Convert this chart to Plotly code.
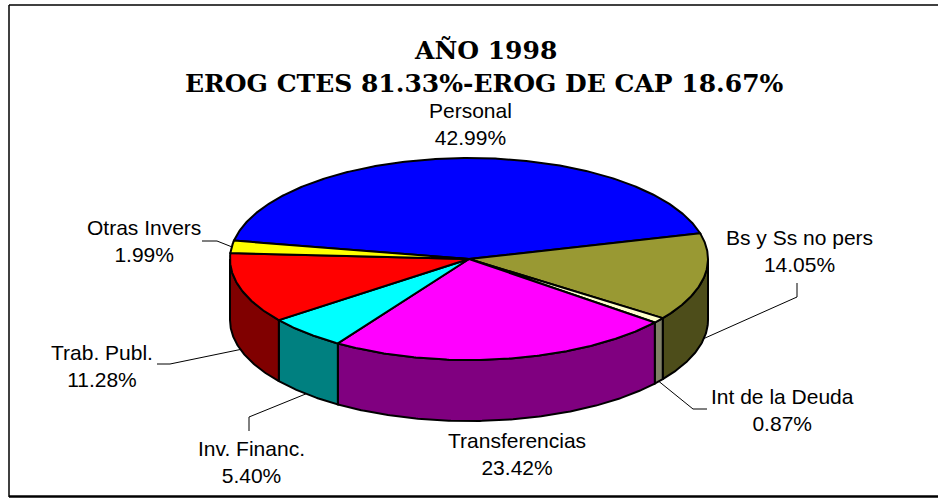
import numpy as np
import plotly.graph_objects as go

# ---------------- data ----------------
categories = ["Personal", "Bs y Ss no pers", "Int de la Deuda", "Transferencias",
              "Inv. Financ.", "Trab. Publ.", "Otras Invers"]
values = [42.99, 14.05, 0.87, 23.42, 5.40, 11.28, 1.99]
pct_labels = ["42.99%", "14.05%", "0.87%", "23.42%", "5.40%", "11.28%", "1.99%"]
title_lines = ["AÑO 1998", "EROG CTES 81.33%-EROG DE CAP 18.67%"]

# ---------------- style ----------------
top_colors = ["#0000FF", "#999933", "#FFFFCC", "#FF00FF", "#00FFFF", "#FF0000", "#FFFF00"]
side_colors = ["#000080", "#4D4D1A", "#808066", "#800080", "#008080", "#800000", "#808000"]

W, H = 938, 499
CX, CY, RX, RY, DEPTH = 469, 259, 239, 101, 61
START = 169.5  # degrees, slices run clockwise

label_pos = {
    "Personal": (470, 124),
    "Bs y Ss no pers": (799, 251),
    "Int de la Deuda": (782, 410),
    "Transferencias": (517, 454),
    "Inv. Financ.": (251, 462),
    "Trab. Publ.": (102, 366),
    "Otras Invers": (144, 241),
}
leader_elbows = {
    "Bs y Ss no pers": [(797, 283), (797, 297)],
    "Int de la Deuda": [(707, 409), (693, 409)],
    "Inv. Financ.": [(249, 431), (249, 417)],
    "Trab. Publ.": [(157, 364), (170, 364)],
    "Otras Invers": [(202, 241), (217, 241)],
}


def pt(theta, dy=0.0):
    t = np.radians(theta)
    return CX + RX * np.cos(t), CY - RY * np.sin(t) + dy


def arc(a_from, a_to, dy=0.0):
    n = max(3, int(abs(a_to - a_from) * 2) + 2)
    th = np.linspace(a_from, a_to, n)
    x, y = pt(th, dy)
    return list(x), list(y)


total = sum(values)
spans = [360.0 * v / total for v in values]
bounds = []
a = START
for s in spans:
    bounds.append((a, a - s))
    a -= s

fig = go.Figure()

# side walls (front half only)
for (a1, a2), col in zip(bounds, side_colors):
    for k in (-1, 0, 1):
        lo = max(a2, -180 + 360 * k)
        hi = min(a1, 0 + 360 * k)
        if hi > lo:
            tx, ty = arc(hi, lo)
            bx, by = arc(lo, hi, DEPTH)
            xs = tx + bx + [tx[0]]
            ys = ty + by + [ty[0]]
            fig.add_trace(go.Scatter(x=xs, y=ys, mode="lines", fill="toself",
                                     fillcolor=col, line=dict(color="black", width=2),
                                     hoverinfo="skip", showlegend=False))

# top faces
for (a1, a2), col in zip(bounds, top_colors):
    ax, ay = arc(a1, a2)
    xs = [CX] + ax + [CX]
    ys = [CY] + ay + [CY]
    fig.add_trace(go.Scatter(x=xs, y=ys, mode="lines", fill="toself",
                             fillcolor=col, line=dict(color="black", width=2),
                             hoverinfo="skip", showlegend=False))

# leader lines
for cat, (a1, a2) in zip(categories, bounds):
    if cat not in leader_elbows:
        continue
    mid = (a1 + a2) / 2
    if np.sin(np.radians(mid)) < 0:
        ex, ey = pt(mid, DEPTH)
    else:
        ex, ey = pt(mid)
    pts = leader_elbows[cat]
    xs = [p[0] for p in pts] + [ex]
    ys = [p[1] for p in pts] + [ey]
    fig.add_trace(go.Scatter(x=xs, y=ys, mode="lines",
                             line=dict(color="black", width=1),
                             hoverinfo="skip", showlegend=False))

annotations = []
for cat, pct in zip(categories, pct_labels):
    x, y = label_pos[cat]
    annotations.append(dict(x=x, y=y, xref="x", yref="y", text=f"{cat}<br>{pct}",
                            showarrow=False, xanchor="center", yanchor="middle",
                            font=dict(family="Liberation Sans, Arial", size=21, color="black")))

annotations.append(dict(x=485, y=50, xref="x", yref="y", text=f"<b>{title_lines[0]}</b>",
                        showarrow=False, xanchor="center", yanchor="middle",
                        font=dict(family="DejaVu Serif", size=25, color="black")))
annotations.append(dict(x=484, y=83, xref="x", yref="y", text=f"<b>{title_lines[1]}</b>",
                        showarrow=False, xanchor="center", yanchor="middle",
                        font=dict(family="DejaVu Serif", size=25, color="black")))

shapes = [
    dict(type="line", xref="x", yref="y", x0=9, y0=5, x1=W + 5, y1=5,
         line=dict(color="black", width=1.5)),
    dict(type="line", xref="x", yref="y", x0=9, y0=5, x1=9, y1=497,
         line=dict(color="black", width=1.5)),
    dict(type="line", xref="x", yref="y", x0=9, y0=496.5, x1=W + 5, y1=496.5,
         line=dict(color="black", width=2.5)),
]

fig.update_layout(
    width=W, height=H,
    margin=dict(l=0, r=0, t=0, b=0),
    paper_bgcolor="white", plot_bgcolor="white",
    xaxis=dict(range=[0, W], visible=False, fixedrange=True),
    yaxis=dict(range=[H, 0], visible=False, fixedrange=True),
    annotations=annotations,
    shapes=shapes,
    showlegend=False,
)

fig.write_html("out.html", config={"displayModeBar": False},
               post_script="document.body.style.margin='0';document.body.style.overflow='hidden';")
